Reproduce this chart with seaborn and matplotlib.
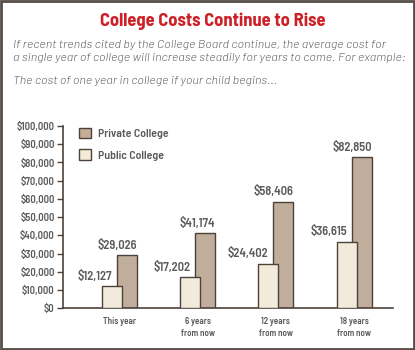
import matplotlib
matplotlib.use("Agg")
import matplotlib.pyplot as plt
from matplotlib.patches import Rectangle, Patch
from matplotlib.ticker import FuncFormatter
import seaborn as sns
import pandas as pd

# Projected cost of one year of college
periods = ["This year", "6 years\nfrom now", "12 years\nfrom now", "18 years\nfrom now"]
public_costs = [12127, 17202, 24402, 36615]
private_costs = [29026, 41174, 58406, 82850]
series = ["Public College", "Private College"]
y_ticks = [0, 10000, 20000, 30000, 40000, 50000, 60000, 70000, 80000, 90000, 100000]

title = "College Costs Continue to Rise"
intro = ("If recent trends cited by the College Board continue, the average cost for\n"
         "a single year of college will increase steadily for years to come. For example:")
lead = "The cost of one year in college if your child begins..."

PRIVATE_C = "#c6ad95"
PUBLIC_C = "#f6ebd6"
EDGE_C = "#4d423b"
TEXT_C = "#5a5a5a"
RED = "#cc1f26"
BOLD_FONT = ["Barlow Semi Condensed", "DejaVu Sans"]
ITALIC_FONT = ["Barlow", "DejaVu Sans"]

sns.set_theme(style="white")
plt.rcParams["font.family"] = BOLD_FONT

df = pd.DataFrame({
    "period": periods * 2,
    "series": [series[0]] * len(periods) + [series[1]] * len(periods),
    "cost": public_costs + private_costs,
})

fig = plt.figure(figsize=(4.15, 3.5), dpi=100)
fig.patch.set_facecolor("white")
ax = fig.add_axes([0.152, 0.119, 0.795, 0.521])

sns.barplot(data=df, x="period", y="cost", hue="series", hue_order=series,
            order=periods, palette=[PUBLIC_C, PRIVATE_C], width=0.383, gap=-0.333,
            edgecolor=EDGE_C, linewidth=1.0, errorbar=None, legend=False, ax=ax)

# public bars sit in front of the private ones
for bar in ax.containers[0]:
    bar.set_zorder(3)
for bar in ax.containers[1]:
    bar.set_zorder(2)

# value labels: public right-aligned on its bar centre, private on its right edge
label_kw = dict(xytext=(0, 2.5), textcoords="offset points", ha="right", va="bottom",
                fontsize=9, fontweight=600, color=TEXT_C, zorder=5)
for bar, val in zip(ax.containers[0], public_costs):
    ax.annotate(f"${val:,}", (bar.get_x() + bar.get_width() / 2, val), **label_kw)
for bar, val in zip(ax.containers[1], private_costs):
    ax.annotate(f"${val:,}", (bar.get_x() + bar.get_width(), val), **label_kw)

ax.set_xlim(-0.7175, 3.4955)
ax.set_ylim(0, 100000)
ax.set_yticks(y_ticks)
ax.yaxis.set_major_formatter(FuncFormatter(lambda v, p: f"${int(v):,}"))
ax.set_xlabel("")
ax.set_ylabel("")
sns.despine(ax=ax)
for s in ("left", "bottom"):
    ax.spines[s].set_color(EDGE_C)
    ax.spines[s].set_linewidth(1.2)
ax.tick_params(axis="y", which="major", left=True, length=4, width=1, color=EDGE_C,
               pad=2, labelsize=7.6, labelcolor=TEXT_C)
ax.tick_params(axis="x", bottom=False, pad=0.5, labelsize=6.5, labelcolor=TEXT_C)
for lbl in ax.get_yticklabels():
    lbl.set_fontweight(600)
for lbl in ax.get_xticklabels():
    lbl.set_fontweight(600)
    lbl.set_linespacing(1.35)
    lbl.set_va("top")

handles = [Patch(facecolor=PRIVATE_C, edgecolor=EDGE_C, linewidth=1.0, label=series[1]),
           Patch(facecolor=PUBLIC_C, edgecolor=EDGE_C, linewidth=1.0, label=series[0])]
leg = ax.legend(handles=handles, loc="upper left", bbox_to_anchor=(0.048, 0.99),
                borderaxespad=0, borderpad=0, frameon=False, handlelength=1.05,
                handleheight=1.0, handletextpad=0.55, labelspacing=0.85,
                prop={"family": BOLD_FONT, "size": 8.5, "weight": 600})
for t in leg.get_texts():
    t.set_color(TEXT_C)

fig.text(0.513, 0.94, title, ha="center", va="center", fontsize=13.3,
         fontweight="bold", color=RED)
fig.text(0.031, 0.853, intro, ha="left", va="center", fontsize=8.9,
         family=ITALIC_FONT, fontweight=300, style="italic", color="#606060",
         linespacing=1.3)
fig.text(0.031, 0.768, lead, ha="left", va="center", fontsize=8.9,
         family=ITALIC_FONT, fontweight=300, style="italic", color="#606060")

fig.add_artist(Rectangle((0.002, 0.003), 0.996, 0.994, transform=fig.transFigure,
                         fill=False, edgecolor="#574d48", linewidth=2.0))

fig.savefig("out.png", dpi=100, facecolor="white")
